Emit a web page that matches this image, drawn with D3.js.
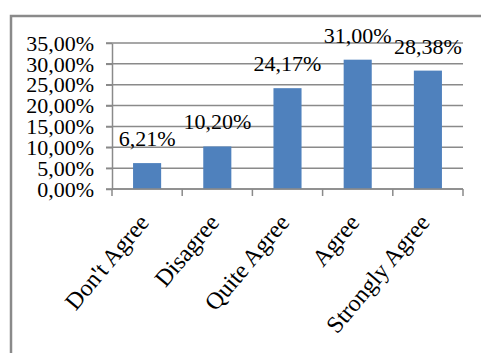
<!DOCTYPE html>
<html>
<head>
<meta charset="utf-8">
<script src="https://cdn.jsdelivr.net/npm/d3@7"></script>
<style>
  body { margin: 0; background: #fff; }
</style>
</head>
<body>
<div id="chart"></div>
<script>
// values
const categories = ["Don't Agree", "Disagree", "Quite Agree", "Agree", "Strongly Agree"];
const values = [6.21, 10.20, 24.17, 31.00, 28.38];
const yTicks = [0, 5, 10, 15, 20, 25, 30, 35];

let width = 481;
let height = 353;
let gray = "#8a8a8a";
let serif = "'Liberation Serif', 'Times New Roman', serif";

let svg = d3.select("#chart").append("svg")
    .attr("width", width)
    .attr("height", height);

// chart frame, only left and top edges show
svg.append("path")
    .attr("d", `M11,${height + 5}V16H${width + 5}`)
    .attr("fill", "none")
    .attr("stroke", gray)
    .attr("stroke-width", 2.5);

const plotLeft = 112, plotRight = 463, plotTop = 43, plotBottom = 189;

const x = d3.scaleBand()
    .domain(categories)
    .range([plotLeft, plotRight])
    .paddingInner(0.6)
    .paddingOuter(0.3);

const y = d3.scaleLinear()
    .domain([0, 35])
    .range([plotBottom, plotTop]);

const comma = d3.formatLocale({ decimal: ",", thousands: ".", grouping: [3], currency: ["", ""] });
const pct = d => comma.format(".2f")(d) + "%";

// gridlines
svg.append("g")
    .selectAll("line")
    .data(yTicks)
    .enter().append("line")
    .attr("x1", plotLeft - 6)
    .attr("x2", plotRight)
    .attr("y1", d => y(d))
    .attr("y2", d => y(d))
    .attr("stroke", gray)
    .attr("stroke-width", 1.5);

// y axis
let yAxis = svg.append("g")
    .attr("transform", `translate(${plotLeft},0)`)
    .call(d3.axisLeft(y).tickValues(yTicks).tickFormat(pct).tickSize(6).tickSizeOuter(0).tickPadding(12))
    .attr("font-family", serif)
    .attr("font-size", 22);
yAxis.select(".domain").attr("stroke", gray).attr("stroke-width", 1.5);
yAxis.selectAll(".tick line").attr("stroke", gray).attr("stroke-width", 1.5);
yAxis.selectAll("text")
    .attr("fill", "#000")
    .attr("dy", "0.33em");

// bars
svg.append("g")
    .selectAll("rect")
    .data(values)
    .enter().append("rect")
    .attr("x", (d, i) => x(categories[i]))
    .attr("y", d => y(d))
    .attr("width", x.bandwidth())
    .attr("height", d => y(0) - y(d))
    .attr("fill", "#4f81bd");

// x axis line and tick marks at category boundaries
let step = x.step();
let bounds = d3.range(categories.length + 1).map(i => plotLeft + i * step);
svg.append("line")
    .attr("x1", plotLeft).attr("x2", plotRight)
    .attr("y1", plotBottom).attr("y2", plotBottom)
    .attr("stroke", gray).attr("stroke-width", 1.5);
svg.append("g")
    .selectAll("line")
    .data(bounds)
    .enter().append("line")
    .attr("x1", d => d).attr("x2", d => d)
    .attr("y1", plotBottom).attr("y2", plotBottom + 7)
    .attr("stroke", gray).attr("stroke-width", 1.5);

// data labels
svg.append("g")
    .attr("font-family", serif)
    .attr("font-size", 22)
    .selectAll("text")
    .data(values)
    .enter().append("text")
    .attr("x", (d, i) => x(categories[i]) + x.bandwidth() / 2)
    .attr("y", d => y(d) - 17)
    .attr("text-anchor", "middle")
    .text(d => pct(d));

// category labels, rotated
svg.append("g")
    .attr("font-family", serif)
    .attr("font-size", 24)
    .selectAll("text")
    .data(categories)
    .enter().append("text")
    .attr("transform", d => `translate(${x(d) + x.bandwidth() / 2 + 3},${plotBottom + 34}) rotate(-50)`)
    .attr("text-anchor", "end")
    .text(d => d);
</script>
</body>
</html>
